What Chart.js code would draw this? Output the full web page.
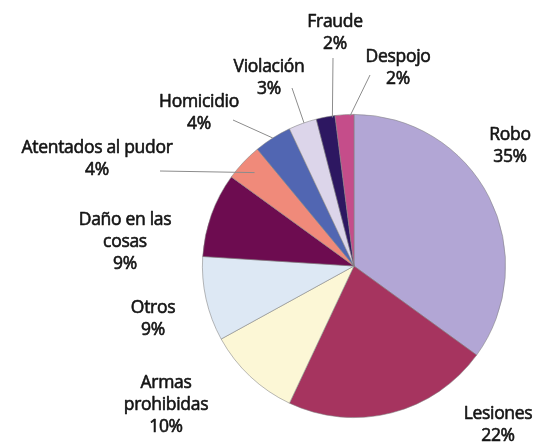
<!DOCTYPE html>
<html>
<head>
<meta charset="utf-8">
<script src="https://cdn.jsdelivr.net/npm/chart.js@4.4.1/dist/chart.umd.min.js"></script>
<style>
  html, body { margin: 0; padding: 0; background: #ffffff; }
  #wrap { width: 540px; height: 448px; }
</style>
</head>
<body>
<div id="wrap"><canvas id="pie" width="540" height="448"></canvas></div>
<script>
// Delitos por tipo (porcentaje del total)
const categories = ['Robo', 'Lesiones', 'Armas prohibidas', 'Otros', 'Daño en las cosas',
                    'Atentados al pudor', 'Homicidio', 'Violación', 'Fraude', 'Despojo'];
const shares = [35, 22, 10, 9, 9, 4, 4, 3, 2, 2];

// How each category name is broken into lines in its label
const labelLines = [
  ['Robo'], ['Lesiones'], ['Armas', 'prohibidas'], ['Otros'], ['Daño en las', 'cosas'],
  ['Atentados al pudor'], ['Homicidio'], ['Violación'], ['Fraude'], ['Despojo']
];

const sliceColors = ['#b2a6d5', '#a6345f', '#fcf7d6', '#dde8f4', '#6d0c50',
                     '#f08a7a', '#5166b2', '#dcd5ea', '#2d1761', '#c54d8a'];

// Label placement, in pixels from the pie centre (first text line)
const labelOffsets = [
  [156, -131], [144, 148], [-188, 117], [-201, 42], [-229, -46],
  [-257, -118], [-155, -164], [-85, -199], [-19, -244], [44, -209]
];

// Leader lines: slice index, start (px from pie centre), position inside the slice (angle fraction, radius fraction)
const leaders = [
  { i: 5, from: [-194, -95],  t: 0.5,  r: 0.90 },
  { i: 6, from: [-121, -146], t: 0.5,  r: 1.0 },
  { i: 7, from: [-62, -178],  t: 0.55, r: 1.0 },
  { i: 8, from: [-21, -208],  t: 0.85, r: 0.99 },
  { i: 9, from: [16, -191],   t: 0.79, r: 0.99 }
];

const FONT = '17.5px "Open Sans", "Noto Sans", sans-serif';
const LINE_H = 22;

const labelPlugin = {
  id: 'sliceLabels',
  afterDatasetsDraw(chart) {
    const ctx = chart.ctx;
    const arcs = chart.getDatasetMeta(0).data;
    if (!arcs.length) return;
    const cx = arcs[0].x, cy = arcs[0].y;
    ctx.save();

    // leader lines
    ctx.strokeStyle = '#8c8c8c';
    ctx.lineWidth = 1;
    leaders.forEach(l => {
      const a = arcs[l.i];
      const ang = a.startAngle + (a.endAngle - a.startAngle) * l.t;
      const rad = a.outerRadius * l.r;
      ctx.beginPath();
      ctx.moveTo(cx + l.from[0], cy + l.from[1]);
      ctx.lineTo(cx + Math.cos(ang) * rad, cy + Math.sin(ang) * rad);
      ctx.stroke();
    });

    // text, slightly emboldened with a thin outline
    ctx.font = FONT;
    if ('letterSpacing' in ctx) ctx.letterSpacing = '-0.3px';
    ctx.fillStyle = '#141414';
    ctx.strokeStyle = '#141414';
    ctx.lineWidth = 0.6;
    ctx.lineJoin = 'round';
    ctx.textAlign = 'center';
    ctx.textBaseline = 'middle';
    categories.forEach((name, i) => {
      const lines = labelLines[i].concat([shares[i] + '%']);
      const [dx, dy] = labelOffsets[i];
      lines.forEach((txt, k) => {
        const x = cx + dx, y = cy + dy + k * LINE_H;
        ctx.strokeText(txt, x, y);
        ctx.fillText(txt, x, y);
      });
    });
    ctx.restore();
  }
};

new Chart(document.getElementById('pie'), {
  type: 'pie',
  data: {
    labels: categories,
    datasets: [{
      data: shares,
      backgroundColor: sliceColors,
      borderColor: 'rgba(130,130,130,0.7)',
      borderWidth: 0.8
    }]
  },
  options: {
    responsive: false,
    animation: false,
    rotation: 0,
    layout: { padding: { left: 202, right: 34, top: 114, bottom: 30 } },
    plugins: {
      legend: { display: false },
      tooltip: { enabled: false }
    }
  },
  plugins: [labelPlugin]
});
</script>
</body>
</html>
